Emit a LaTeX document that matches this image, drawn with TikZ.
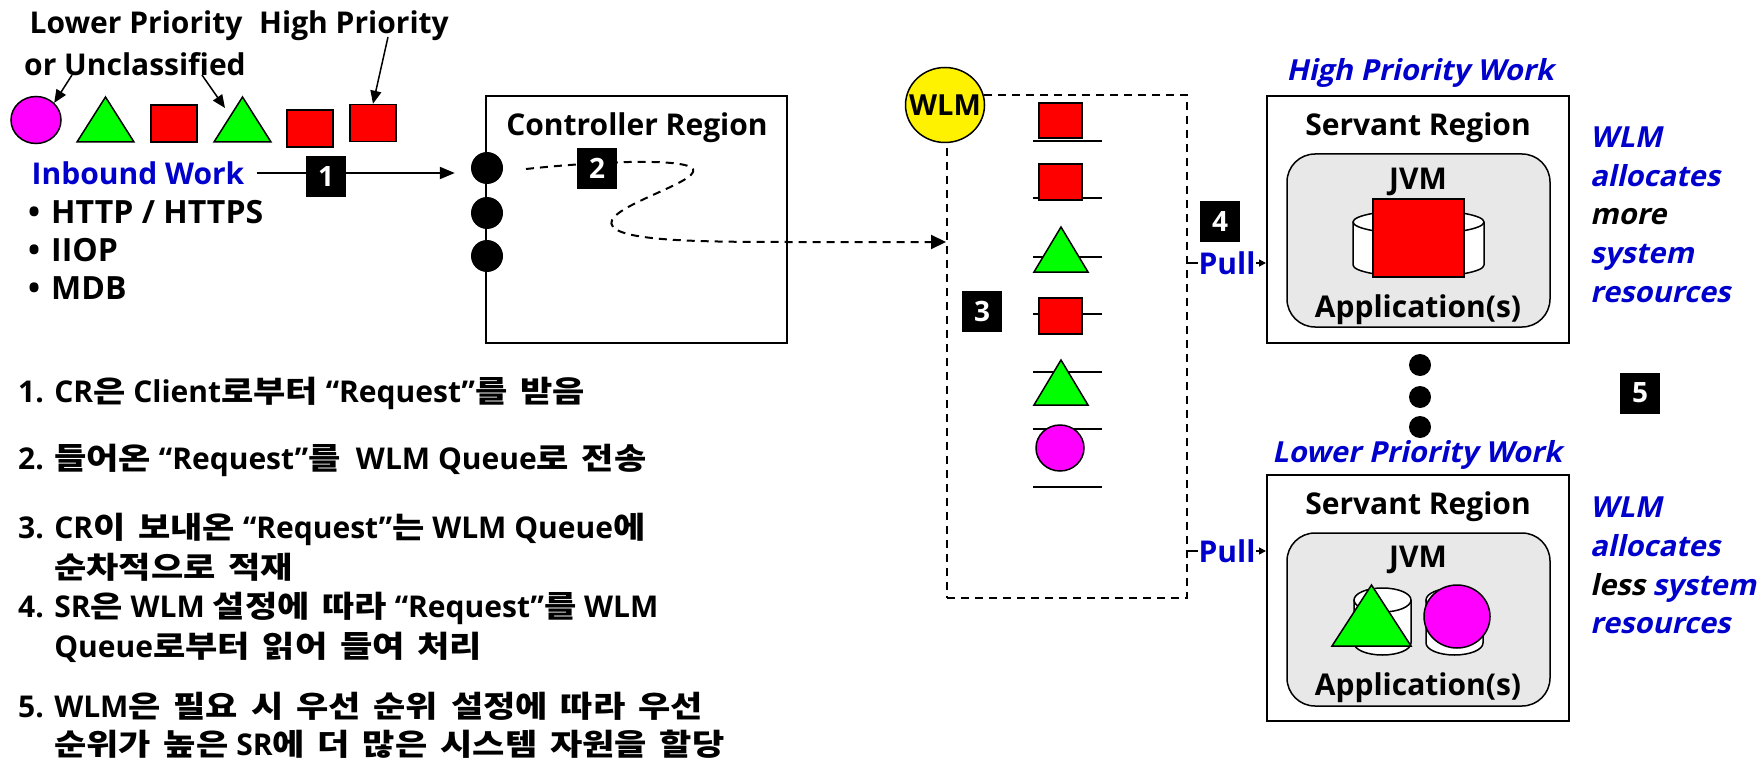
\documentclass[tikz,border=0pt]{standalone}
\usepackage{fontspec}
\setmainfont{Open Sans}
\newfontfamily\kr{Noto Sans CJK KR}[FakeStretch=1.17, WordSpace=1.6]
\newfontfamily\slnt{Open Sans}[FakeSlant=0.22]
\usetikzlibrary{shapes}
\usetikzlibrary{positioning}
\usetikzlibrary{arrows.meta}
\definecolor{wlmblue}{RGB}{0,0,204}
\definecolor{wlmmag}{RGB}{255,0,255}
\definecolor{jvmgray}{RGB}{232,232,232}
\tikzset{
    numbox/.style = {fill=black, text=white, minimum width=40pt, minimum height=41pt, inner sep=0pt, font=\fontsize{28}{28}\selectfont\bfseries},
    redsq/.style = {draw=black, fill=red, line width=1.5pt, inner sep=0pt},
    magcirc/.style = {ellipse, draw=black, fill=wlmmag, line width=1.5pt, inner sep=0pt},
    portdot/.style = {circle, fill=black, minimum size=32pt, inner sep=0pt},
    moredot/.style = {circle, fill=black, minimum size=22pt, inner sep=0pt},
    regbox/.style = {draw=black, line width=2pt, inner sep=0pt},
    qbox/.style = {draw=black, line width=2pt, dash pattern=on 8pt off 6pt, inner sep=0pt},
    jvmbox/.style = {draw=black, fill=jvmgray, line width=1.5pt, rounded corners=28pt, inner sep=0pt, minimum width=263pt, minimum height=173pt},
    cylside/.style = {draw=black, fill=white, line width=1.5pt},
    txt/.style = {font=\fontsize{30}{38}\selectfont\bfseries, inner sep=0pt},
    bluetxt/.style = {txt, text=wlmblue},
    slanttxt/.style = {font=\fontsize{29}{38.7}\selectfont\slnt\bfseries, text=wlmblue, inner sep=0pt, align=left},
    krtxt/.style = {font=\fontsize{30}{40}\selectfont\bfseries, inner sep=0pt, align=left, anchor=west},
    edgen/.style = {line width=2pt, -{Triangle[length=15pt,width=12pt]}},
    edgea/.style = {line width=1.5pt, -{Triangle[length=13pt,width=11pt]}}, % pointers
    edged/.style = {line width=2pt, dash pattern=on 8pt off 6pt, -{Triangle[length=15pt,width=14pt]}},
    edgep/.style = {line width=1.5pt, -{Triangle[length=7pt,width=7pt]}}, % pull
    qline/.style = {line width=1.5pt},
    tri/.pic = {\draw[fill=green, line width=1.5pt] (-0.5,0.5) -- (0.5,0.5) -- (0,-0.5) -- cycle;}
}
% cylinder: centre x, top, bottom, half width
\newcommand{\drawcyl}[4]{%
  \draw[cylside] ({#1-#4},{#2+12}) -- ({#1-#4},{#3-12}) arc[start angle=180, end angle=0, x radius=#4, y radius=12] -- ({#1+#4},{#2+12});
  \draw[cylside] (#1,{#2+12}) ellipse[x radius=#4, y radius=12];
}

\begin{document}
\begin{tikzpicture}[x=1pt, y=-1pt, font=\bfseries]
  \useasboundingbox (0,0) rectangle (1764,762);

  % inbound work
  \node[txt] (lowp) at (136,26) {Lower Priority};
  \node[txt] (highp) at (354,26) {High Priority};
  \node[txt] (uncl) at (135,64) {or Unclassified};
  \node[magcirc, minimum width=50pt, minimum height=47pt] (c0) at (36,120) {};
  \pic[xscale=57, yscale=45] (t0) at (105.5,119.5) {tri};
  \node[redsq, minimum width=46pt, minimum height=37pt] (s1) at (174,123.5) {};
  \pic[xscale=57, yscale=45] (t1) at (242.5,119.5) {tri};
  \node[redsq, minimum width=46pt, minimum height=37pt] (s2) at (310,128.5) {};
  \node[redsq, minimum width=46pt, minimum height=37pt] (s3) at (373,123) {};
  \coordinate (a1) at (72,75);
  \coordinate (a2) at (202,75);
  \coordinate (a3) at (388,37);
  \draw[edgea] (a1) -- (c0.north east);
  \draw[edgea] (a2) -- (225,108);
  \draw[edgea] (a3) -- (s3.north);

  \node[bluetxt] (inb) at (138,173) {Inbound Work};
  \node[txt, font=\fontsize{32}{38}\selectfont\bfseries, align=left, anchor=west] (proto) at (28,250) {\textbullet\hspace{11pt}HTTP / HTTPS\\\textbullet\hspace{11pt}IIOP\\\textbullet\hspace{11pt}MDB};

  % controller region
  \node[regbox, minimum width=301pt, minimum height=247pt] (cr) at (636.5,219.5) {};
  \node[txt] (crt) at (637,128) {Controller Region};
  \node[portdot] (p1) at (487,168) {};
  \node[portdot] (p2) at (487,213) {};
  \node[portdot] (p3) at (487,256) {};
  \draw[edgen, shorten <=12pt, shorten >=16pt] (inb.east) -- (inb.east -| p1.west);
  \node[numbox] (n1) at (326,176.5) {1};

  % queue
  \node[qbox, minimum width=240pt, minimum height=503pt] (q) at (1067,346.5) {};
  \node[ellipse, draw=black, fill=yellow, line width=1.5pt, minimum width=79pt, minimum height=75pt] (wlm) at (945,105) {};
  \node[txt, font=\fontsize{29}{29}\selectfont\bfseries] (wlmt) at (wlm) {WLM};
  \coordinate (c2s) at (526,169);
  \draw[edged] (c2s) .. controls (610,160) and (700,158) .. (693,172)
    .. controls (688,186) and (598,210) .. (613,227)
    .. controls (626,241) and (700,242) .. (787,242) -- (q.west |- 0,242);
  \node[numbox] (n2) at (597,168.5) {2};

  \foreach \y in {141,198,257,314,372,429,487}
    \draw[qline] (1033,\y) -- (1102,\y);
  \node[redsq, minimum width=43pt, minimum height=35pt] (qs1) at (1060.5,120.5) {};
  \node[redsq, minimum width=43pt, minimum height=36pt] (qs2) at (1060.5,182) {};
  \pic[xscale=54, yscale=45] (qt1) at (1061,249.5) {tri};
  \node[redsq, minimum width=43pt, minimum height=36pt] (qs3) at (1060.5,316) {};
  \pic[xscale=54, yscale=45] (qt2) at (1061,382.5) {tri};
  \node[magcirc, minimum width=48pt, minimum height=46pt] (qc) at (1060,448) {};
  \node[numbox] (n3) at (982,311) {3};

  % servant regions
  \node[regbox, minimum width=302pt, minimum height=247pt] (sr1) at (1418,219.5) {};
  \node[regbox, minimum width=302pt, minimum height=246pt] (sr2) at (1418,598) {};
  \node[slanttxt, font=\fontsize{29}{29}\selectfont\slnt\bfseries] (hpw) at (1420,73) {High Priority Work};
  \node[slanttxt, font=\fontsize{29}{29}\selectfont\slnt\bfseries] (lpw) at (1417,455) {Lower Priority Work};

  \node[jvmbox] (jvm1) at (1418.5,240.5) {};
  \node[txt] at (1418,128) {Servant Region};
  \node[txt] (jt1) at (1418,182) {JVM};
  \drawcyl{1418.5}{210}{277}{65.5}
  \node[redsq, minimum width=91pt, minimum height=78pt] (app1) at (1418.5,238) {};
  \node[txt] at (1418,310) {Application(s)};

  \node[jvmbox] (jvm2) at (1418.5,619.5) {};
  \node[txt] at (1418,507) {Servant Region};
  \node[txt] (jt2) at (1418,560) {JVM};
  \drawcyl{1382.5}{588}{655}{28.5}
  \drawcyl{1454.5}{588}{655}{28.5}
  \pic[xscale=79, yscale=61] (app2) at (1371.5,615.5) {tri};
  \node[magcirc, minimum width=66pt, minimum height=63pt] (app3) at (1457,616.5) {};
  \node[txt] at (1418,688) {Application(s)};

  \node[numbox] (n4) at (1220,221.5) {4};
  \draw[edgep] (q.east |- 0,263) -- (sr1.west |- 0,263) node[midway, bluetxt, fill=white, inner sep=1pt] {Pull};
  \draw[edgep] (q.east |- 0,551) -- (sr2.west |- 0,551) node[midway, bluetxt, fill=white, inner sep=1pt] {Pull};

  \node[moredot] (d1) at (1420,365) {};
  \node[moredot] (d2) at (1420,397) {};
  \node[moredot] (d3) at (1420,427) {};
  \node[numbox] (n5) at (1640,393) {5};

  \node[slanttxt, anchor=west] (more) at (1590,214.5) {WLM\\allocates\\{\color{black}more}\\system\\resources};
  \node[slanttxt, anchor=west] (less) at (1590,565.5) {WLM\\allocates\\{\color{black}less} system\\resources};

  % steps
  \node[krtxt] (k1) at (18,393) {1. CR{\kr 은} Client{\kr 로부터} “Request”{\kr 를 받음}};
  \node[krtxt] (k2) at (18,460) {2. {\kr 들어온} “Request”{\kr 를}\ \ WLM Queue{\kr 로 전송}};
  \node[krtxt] (k3) at (18,547) {3. CR{\kr 이 보내온} “Request”{\kr 는} WLM Queue{\kr 에}\\\phantom{3. }{\kr 순차적으로 적재}};
  \node[krtxt] (k4) at (18,627) {4. SR{\kr 은} WLM {\kr 설정에 따라} “Request”{\kr 를} WLM\\\phantom{4. }Queue{\kr 로부터 읽어 들여 처리}};
  \node[krtxt, font=\fontsize{30}{38}\selectfont\bfseries] (k5) at (18,725) {5. WLM{\kr 은 필요 시 우선 순위 설정에 따라 우선}\\\phantom{5. }{\kr 순위가 높은} SR{\kr 에 더 많은 시스템 자원을 할당}};
\end{tikzpicture}
\end{document}
